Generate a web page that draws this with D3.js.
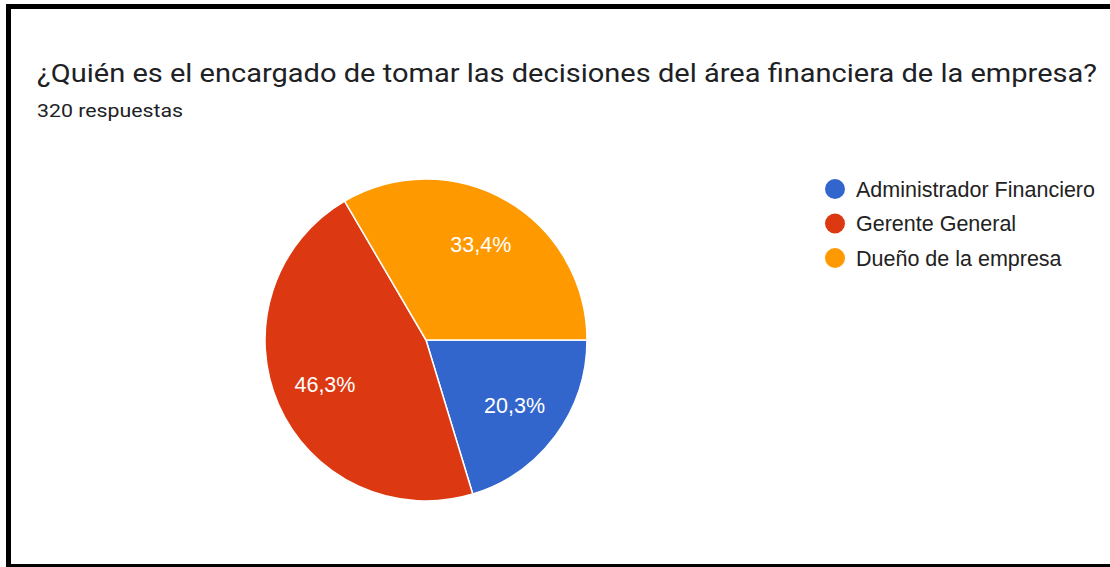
<!DOCTYPE html>
<html><head><meta charset="utf-8">
<script src="https://cdn.jsdelivr.net/npm/d3@7"></script>
<style>html,body{margin:0;padding:0;background:#fff;}svg{display:block;}</style>
</head><body>
<svg id="chart" width="1110" height="567"></svg>
<script>
const categories = ["Administrador Financiero", "Gerente General", "Dueño de la empresa"];
const counts = [65, 148, 107];
const percentLabels = ["20,3%", "46,3%", "33,4%"];
const colors = ["#3366cc", "#dc3912", "#ff9900"];
const titleText = "¿Quién es el encargado de tomar las decisiones del área financiera de la empresa?";
const subtitleText = "320 respuestas";

const svg = d3.select("#chart");
// frame
svg.append("rect").attr("x", 0).attr("y", 0).attr("width", 1110).attr("height", 567).attr("fill", "#fff");
svg.append("rect").attr("x", 6).attr("y", 4).attr("width", 1110).attr("height", 5).attr("fill", "#000");
svg.append("rect").attr("x", 6).attr("y", 4).attr("width", 5).attr("height", 563).attr("fill", "#000");
svg.append("rect").attr("x", 6).attr("y", 564).attr("width", 1110).attr("height", 3).attr("fill", "#000");

svg.append("text").attr("x", 37).attr("y", 82)
  .attr("font-family", "Roboto, 'Noto Sans', sans-serif").attr("font-size", 26.5)
  .attr("textLength", 1060).attr("lengthAdjust", "spacingAndGlyphs")
  .attr("fill", "#202124").text(titleText);
svg.append("text").attr("x", 37).attr("y", 117)
  .attr("font-family", "Roboto, sans-serif").attr("font-size", 18.5)
  .attr("textLength", 146).attr("lengthAdjust", "spacingAndGlyphs")
  .attr("fill", "#202124").text(subtitleText);

const cx = 426, cy = 340, r = 161;
const pie = d3.pie().sort(null).value(d => d)
  .startAngle(Math.PI / 2).endAngle(Math.PI / 2 + 2 * Math.PI);
const arcs = pie(counts);
const arc = d3.arc().innerRadius(0).outerRadius(r);
const labelArc = d3.arc().innerRadius(r * 0.685).outerRadius(r * 0.685);
const g = svg.append("g").attr("transform", `translate(${cx},${cy})`);
g.selectAll("path").data(arcs).join("path")
  .attr("d", arc).attr("fill", (d, i) => colors[i])
  .attr("stroke", "#fff").attr("stroke-width", 1.5);
g.selectAll("text").data(arcs).join("text")
  .attr("transform", d => `translate(${labelArc.centroid(d)})`)
  .attr("text-anchor", "middle").attr("dy", "0.35em")
  .attr("font-family", "'Liberation Sans', Arial, sans-serif").attr("font-size", 21.5)
  .attr("fill", "#fff").text((d, i) => percentLabels[i]);

const legend = svg.append("g");
const ly = d3.scalePoint().domain(categories).range([189, 258]);
categories.forEach((c, i) => {
  legend.append("circle").attr("cx", 835).attr("cy", ly(c)).attr("r", 10).attr("fill", colors[i]);
  legend.append("text").attr("x", 856).attr("y", ly(c)).attr("dy", "0.36em")
    .attr("font-family", "'Liberation Sans', Arial, sans-serif").attr("font-size", 21.5)
    .attr("fill", "#222").text(c);
});
</script>
</body></html>
